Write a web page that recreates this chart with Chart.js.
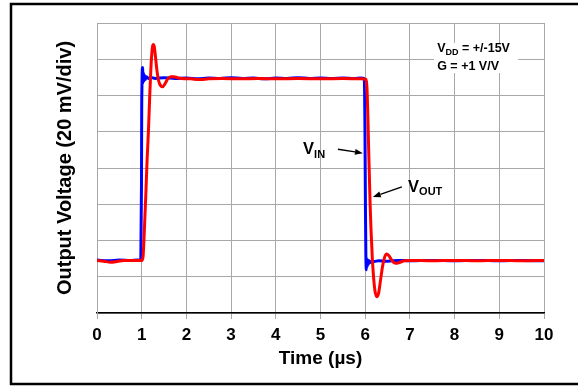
<!DOCTYPE html>
<html>
<head>
<meta charset="utf-8">
<script src="https://cdn.jsdelivr.net/npm/chart.js@4/dist/chart.umd.min.js"></script>
<style>
  html, body { margin: 0; padding: 0; background: #fff; }
  #wrap { position: relative; width: 578px; height: 386px; }
</style>
</head>
<body>
<div id="wrap"><canvas id="stepChart"></canvas></div>
<script>
// x tick labels (µs)
const timeTicks = [0, 1, 2, 3, 4, 5, 6, 7, 8, 9, 10];

// V_IN trace (blue), in divisions of 20 mV
const vinTime = [0, 0.25, 0.5, 0.75, 0.9, 0.98, 0.995, 1.0, 1.005, 1.01,
                 1.02, 1.03, 1.04, 1.05, 1.06, 1.08, 1.1, 1.15, 1.2, 1.3,
                 1.5, 1.75, 2.0, 2.25, 2.5, 2.75, 3.0, 3.25, 3.5, 3.75,
                 4.0, 4.25, 4.5, 4.75, 5.0, 5.25, 5.5, 5.75, 5.9, 5.98,
                 5.995, 6.005, 6.015, 6.025, 6.035, 6.045, 6.055, 6.07, 6.09, 6.12,
                 6.16, 6.2, 6.3, 6.5, 6.75, 7.0, 7.5, 8.0, 8.5, 9.0,
                 9.5, 10];
const vinValue = [1.46, 1.44, 1.46, 1.45, 1.46, 1.45, 3.5, 5.6, 6.2, 6.6,
                  6.77, 6.35, 6.62, 6.4, 6.56, 6.44, 6.52, 6.47, 6.5, 6.47,
                  6.49, 6.47, 6.48, 6.46, 6.48, 6.47, 6.49, 6.47, 6.48, 6.46,
                  6.48, 6.47, 6.49, 6.47, 6.48, 6.47, 6.48, 6.47, 6.48, 6.47,
                  5.0, 3.0, 1.6, 1.19, 1.5, 1.28, 1.47, 1.34, 1.44, 1.39,
                  1.43, 1.42, 1.44, 1.43, 1.45, 1.44, 1.45, 1.44, 1.45, 1.44,
                  1.45, 1.44];

// V_OUT trace (red)
const voutTime = [0, 0.15, 0.3, 0.45, 0.6, 0.8, 1.0, 1.03, 1.06, 1.09,
                  1.12, 1.15, 1.18, 1.21, 1.24, 1.26, 1.28, 1.31, 1.34, 1.38,
                  1.43, 1.47, 1.52, 1.58, 1.65, 1.72, 1.8, 1.9, 2.1, 2.3,
                  2.5, 2.8, 3.2, 3.6, 4.0, 4.5, 5.0, 5.5, 5.9, 6.02,
                  6.04, 6.06, 6.08, 6.11, 6.13, 6.16, 6.19, 6.22, 6.26, 6.3,
                  6.34, 6.39, 6.44, 6.48, 6.53, 6.6, 6.66, 6.71, 6.78, 6.88,
                  7.0, 7.5, 8.0, 8.5, 9.0, 9.5, 10];
const voutValue = [1.45, 1.43, 1.40, 1.42, 1.45, 1.45, 1.45, 1.55, 2.3, 3.2,
                   4.2, 5.0, 6.0, 6.85, 7.33, 7.41, 7.36, 7.05, 6.7, 6.4,
                   6.26, 6.24, 6.32, 6.45, 6.52, 6.52, 6.49, 6.47, 6.46, 6.44,
                   6.46, 6.47, 6.46, 6.47, 6.46, 6.47, 6.46, 6.47, 6.46, 6.45,
                   6.2, 5.4, 4.4, 3.0, 2.3, 1.5, 0.95, 0.6, 0.45, 0.55,
                   0.88, 1.3, 1.56, 1.63, 1.58, 1.45, 1.38, 1.37, 1.4, 1.44,
                   1.45, 1.44, 1.45, 1.44, 1.45, 1.44, 1.45];

const FONT = '"Liberation Sans", Arial, sans-serif';
const GRID = '#a8a8a8';

// text + arrows drawn on top of the traces, placed in data units
function drawSubText(ctx, main, sub, rest, px, py, size, subSize) {
    ctx.font = 'bold ' + size + 'px ' + FONT;
    ctx.fillText(main, px, py);
    let w = ctx.measureText(main).width;
    ctx.font = 'bold ' + subSize + 'px ' + FONT;
    ctx.fillText(sub, px + w, py + subSize * 0.35);
    w += ctx.measureText(sub).width;
    if (rest) {
        ctx.font = 'bold ' + size + 'px ' + FONT;
        ctx.fillText(rest, px + w, py);
    }
}

function drawArrow(ctx, x1, y1, x2, y2) {
    const a = Math.atan2(y2 - y1, x2 - x1);
    const len = 8, half = 3;
    ctx.beginPath();
    ctx.moveTo(x1, y1);
    ctx.lineTo(x2 - Math.cos(a) * len, y2 - Math.sin(a) * len);
    ctx.stroke();
    ctx.beginPath();
    ctx.moveTo(x2, y2);
    ctx.lineTo(x2 - Math.cos(a) * len - Math.sin(a) * half, y2 - Math.sin(a) * len + Math.cos(a) * half);
    ctx.lineTo(x2 - Math.cos(a) * len + Math.sin(a) * half, y2 - Math.sin(a) * len - Math.cos(a) * half);
    ctx.closePath();
    ctx.fill();
}

const notesPlugin = {
    id: 'notesPlugin',
    beforeDraw(chart) {
        const ctx = chart.ctx;
        ctx.save();
        ctx.fillStyle = '#fff';
        ctx.fillRect(0, 0, chart.width, chart.height);
        ctx.strokeStyle = '#000';
        ctx.lineWidth = 2.5;
        ctx.strokeRect(11, 4, 640, 380);
        ctx.restore();
    },
    afterDatasetsDraw(chart) {
        const { ctx, scales: { x, y } } = chart;
        ctx.save();
        ctx.fillStyle = '#000';
        ctx.strokeStyle = '#000';
        ctx.lineWidth = 1.5;
        ctx.textBaseline = 'alphabetic';
        ctx.textAlign = 'left';

        // supply / gain box
        const bx = x.getPixelForValue(7.54), by = y.getPixelForValue(7.45);
        ctx.fillStyle = '#fff';
        ctx.fillRect(bx, by, x.getPixelForValue(9.42) - bx, y.getPixelForValue(6.62) - by);
        ctx.fillStyle = '#000';
        drawSubText(ctx, 'V', 'DD', ' = +/-15V', x.getPixelForValue(7.61), y.getPixelForValue(7.21), 12.5, 9);
        ctx.font = 'bold 12.5px ' + FONT;
        ctx.fillText('G = +1 V/V', x.getPixelForValue(7.61), y.getPixelForValue(6.70));

        // V_IN label and arrow
        drawSubText(ctx, 'V', 'IN', '', x.getPixelForValue(4.61), y.getPixelForValue(4.39), 16.5, 11);
        drawArrow(ctx, x.getPixelForValue(5.39), y.getPixelForValue(4.52), x.getPixelForValue(5.95), y.getPixelForValue(4.41));

        // V_OUT label and arrow
        drawSubText(ctx, 'V', 'OUT', '', x.getPixelForValue(6.96), y.getPixelForValue(3.35), 16.5, 11);
        drawArrow(ctx, x.getPixelForValue(6.82), y.getPixelForValue(3.48), x.getPixelForValue(6.17), y.getPixelForValue(3.2));
        ctx.restore();
    }
};

const ctx = document.getElementById('stepChart').getContext('2d');
new Chart(ctx, {
    type: 'line',
    data: {
        datasets: [
            {
                label: 'VOUT',
                data: voutTime.map((t, i) => ({ x: t, y: voutValue[i] })),
                borderColor: '#ff0000',
                borderWidth: 3,
                pointRadius: 0,
                cubicInterpolationMode: 'monotone',
                fill: false
            },
            {
                label: 'VIN',
                data: vinTime.map((t, i) => ({ x: t, y: vinValue[i] })),
                borderColor: '#0000ff',
                borderWidth: 3,
                pointRadius: 0,
                cubicInterpolationMode: 'monotone',
                fill: false
            }
        ]
    },
    plugins: [notesPlugin],
    options: {
        responsive: true,
        maintainAspectRatio: false,
        animation: false,
        layout: { padding: { left: 50, top: 23, right: 34, bottom: 0 } },
        plugins: {
            legend: { display: false },
            tooltip: { enabled: false }
        },
        scales: {
            x: {
                type: 'linear',
                min: 0,
                max: 10,
                afterFit(scale) { scale.height = 73; },
                afterBuildTicks(scale) { scale.ticks = timeTicks.map(v => ({ value: v })); },
                grid: { color: GRID, tickColor: GRID, tickLength: 6, lineWidth: 1 },
                border: { color: '#000', width: 1.5 },
                ticks: {
                    color: '#000',
                    padding: 6,
                    maxRotation: 0,
                    font: { family: FONT, size: 17, weight: 'bold' }
                },
                title: {
                    display: true,
                    text: 'Time (µs)',
                    color: '#000',
                    padding: { top: 0, bottom: 16 },
                    font: { family: FONT, size: 19, weight: 'bold' }
                }
            },
            y: {
                min: 0,
                max: 8,
                afterFit(scale) { scale.width = 47; },
                grid: { color: GRID, drawTicks: false, lineWidth: 1 },
                border: { color: GRID, width: 1 },
                ticks: { display: false, stepSize: 1 },
                title: {
                    display: true,
                    text: 'Output Voltage (20 mV/div)',
                    color: '#000',
                    padding: { top: 3, bottom: 4 },
                    font: { family: FONT, size: 20, weight: 'bold' }
                }
            }
        }
    }
});
</script>
</body>
</html>
